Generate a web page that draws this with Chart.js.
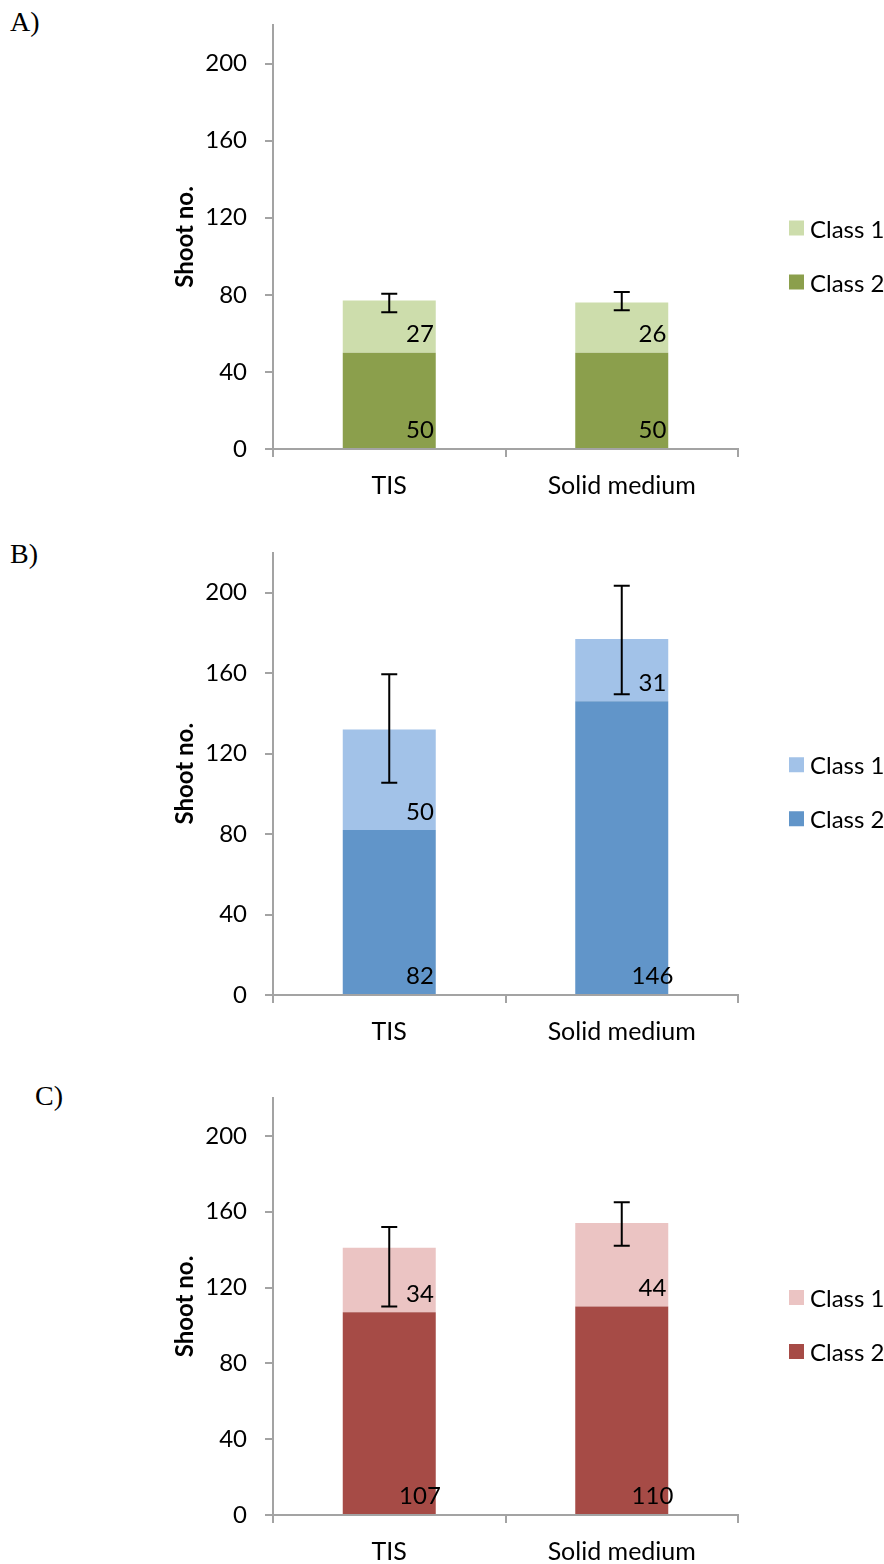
<!DOCTYPE html>
<html>
<head>
<meta charset="utf-8">
<script src="https://cdn.jsdelivr.net/npm/chart.js@4.4.1/dist/chart.umd.min.js"></script>
<style>
  body { margin: 0; background: #fff; width: 884px; height: 1564px; position: relative; overflow: hidden; }
  .panel { position: absolute; left: 0; width: 884px; }
  .tag { position: absolute; font-family: "Liberation Serif", "DejaVu Serif", serif; font-size: 28px; color: #000; line-height: 1; }
</style>
</head>
<body>
<div class="tag" style="left:10px; top:8px;">A)</div>
<div class="tag" style="left:10px; top:540px;">B)</div>
<div class="tag" style="left:35px; top:1082px;">C)</div>

<div class="panel" style="top:0; height:525px;"><canvas id="chartA"></canvas></div>
<div class="panel" style="top:525px; height:545px;"><canvas id="chartB"></canvas></div>
<div class="panel" style="top:1070px; height:494px;"><canvas id="chartC"></canvas></div>

<script>
// categories + legend names
const categories = ["TIS", "Solid medium"];
const seriesNames = ["Class 1", "Class 2"];
const yTickValues = [0, 40, 80, 120, 160, 200];
const yMax = 220;

// A) green
const aClass1 = [27, 26];
const aClass2 = [50, 50];
const aErrLow = [71, 72];
const aErrHigh = [80.5, 81.5];

// B) blue
const bClass1 = [50, 31];
const bClass2 = [82, 146];
const bErrLow = [105.5, 149.5];
const bErrHigh = [159.5, 203.5];

// C) red
const cClass1 = [34, 44];
const cClass2 = [107, 110];
const cErrLow = [110, 142];
const cErrHigh = [152, 165];

const FONT = "Lato";
const axisGray = "#a3a3a3";

// value labels sitting near the base of each segment, right of centre
const segmentLabels = {
  id: "segmentLabels",
  afterDatasetsDraw(chart) {
    const ctx = chart.ctx;
    ctx.save();
    ctx.font = `24px ${FONT}`;
    ctx.fillStyle = "#000";
    ctx.textAlign = "center";
    ctx.textBaseline = "middle";
    chart.data.datasets.forEach((ds, di) => {
      chart.getDatasetMeta(di).data.forEach((bar, i) => {
        ctx.fillText(String(ds.data[i]), bar.x + bar.width * 0.33, bar.base - 18);
      });
    });
    ctx.restore();
  },
};

// error bars from low/high values
const errorBars = {
  id: "errorBars",
  afterDatasetsDraw(chart, args, opts) {
    const ctx = chart.ctx;
    const y = chart.scales.y;
    const bars = chart.getDatasetMeta(chart.data.datasets.length - 1).data;
    ctx.save();
    ctx.strokeStyle = "#000";
    ctx.lineWidth = 2;
    bars.forEach((bar, i) => {
      const yl = y.getPixelForValue(opts.low[i]);
      const yh = y.getPixelForValue(opts.high[i]);
      ctx.beginPath();
      ctx.moveTo(bar.x, yl);
      ctx.lineTo(bar.x, yh);
      ctx.moveTo(bar.x - 8, yl);
      ctx.lineTo(bar.x + 8, yl);
      ctx.moveTo(bar.x - 8, yh);
      ctx.lineTo(bar.x + 8, yh);
      ctx.stroke();
    });
    ctx.restore();
  },
};

// legend on the right, Class 1 above Class 2
const sideLegend = {
  id: "sideLegend",
  afterDraw(chart) {
    const { ctx, chartArea } = chart;
    const mid = (chartArea.top + chartArea.bottom) / 2;
    const ds = chart.data.datasets;
    const items = [ds[1], ds[0]];
    ctx.save();
    ctx.font = `24px ${FONT}`;
    ctx.textAlign = "left";
    ctx.textBaseline = "middle";
    items.forEach((item, i) => {
      const yy = mid - 9 + i * 54;
      ctx.fillStyle = item.backgroundColor;
      ctx.fillRect(chartArea.right + 51, yy - 7.5, 15, 15);
      ctx.fillStyle = "#000";
      ctx.fillText(item.label, chartArea.right + 72, yy + 2);
    });
    ctx.restore();
  },
};

function makePanel(id, class1, class2, errLow, errHigh, light, dark, padTop, xHeight) {
  new Chart(document.getElementById(id), {
    type: "bar",
    data: {
      labels: categories,
      datasets: [
        { label: seriesNames[1], data: class2, backgroundColor: dark },
        { label: seriesNames[0], data: class1, backgroundColor: light },
      ],
    },
    plugins: [segmentLabels, errorBars, sideLegend],
    options: {
      responsive: true,
      maintainAspectRatio: false,
      animation: false,
      layout: { padding: { top: padTop, left: 171, right: 146, bottom: 0 } },
      datasets: { bar: { categoryPercentage: 1, barPercentage: 0.4 } },
      plugins: {
        legend: { display: false },
        tooltip: { enabled: false },
        errorBars: { low: errLow, high: errHigh },
      },
      scales: {
        x: {
          stacked: true,
          offset: true,
          grid: { offset: true, drawOnChartArea: false, tickLength: 8, color: axisGray, lineWidth: 2 },
          border: { color: axisGray, width: 2 },
          ticks: { color: "#000", font: { family: FONT, size: 25 }, padding: 14, maxRotation: 0 },
          afterFit: (s) => { s.height = xHeight; },
        },
        y: {
          stacked: true,
          min: 0,
          max: yMax,
          afterBuildTicks: (s) => { s.ticks = yTickValues.map((v) => ({ value: v })); },
          grid: { drawOnChartArea: false, tickLength: 8, color: axisGray, lineWidth: 2 },
          border: { color: axisGray, width: 2 },
          ticks: { color: "#000", font: { family: FONT, size: 24 }, padding: 18 },
          title: {
            display: true,
            text: "Shoot no.",
            color: "#000",
            font: { family: FONT, size: 24, weight: "bold" },
            padding: 0,
          },
          afterFit: (s) => {
            s.width = 102;
            // top tick is 200, not the 220 max, so no label overhang to reserve
            s.paddingTop = 0;
            s.paddingBottom = 0;
          },
        },
      },
    },
  });
}

makePanel("chartA", aClass1, aClass2, aErrLow, aErrHigh, "#cdddac", "#8b9f4c", 25, 76);
makePanel("chartB", bClass1, bClass2, bErrLow, bErrHigh, "#a2c2e8", "#6195c9", 27.5, 75);
makePanel("chartC", cClass1, cClass2, cErrLow, cErrHigh, "#ebc4c3", "#a64b46", 28, 49);
</script>
</body>
</html>
